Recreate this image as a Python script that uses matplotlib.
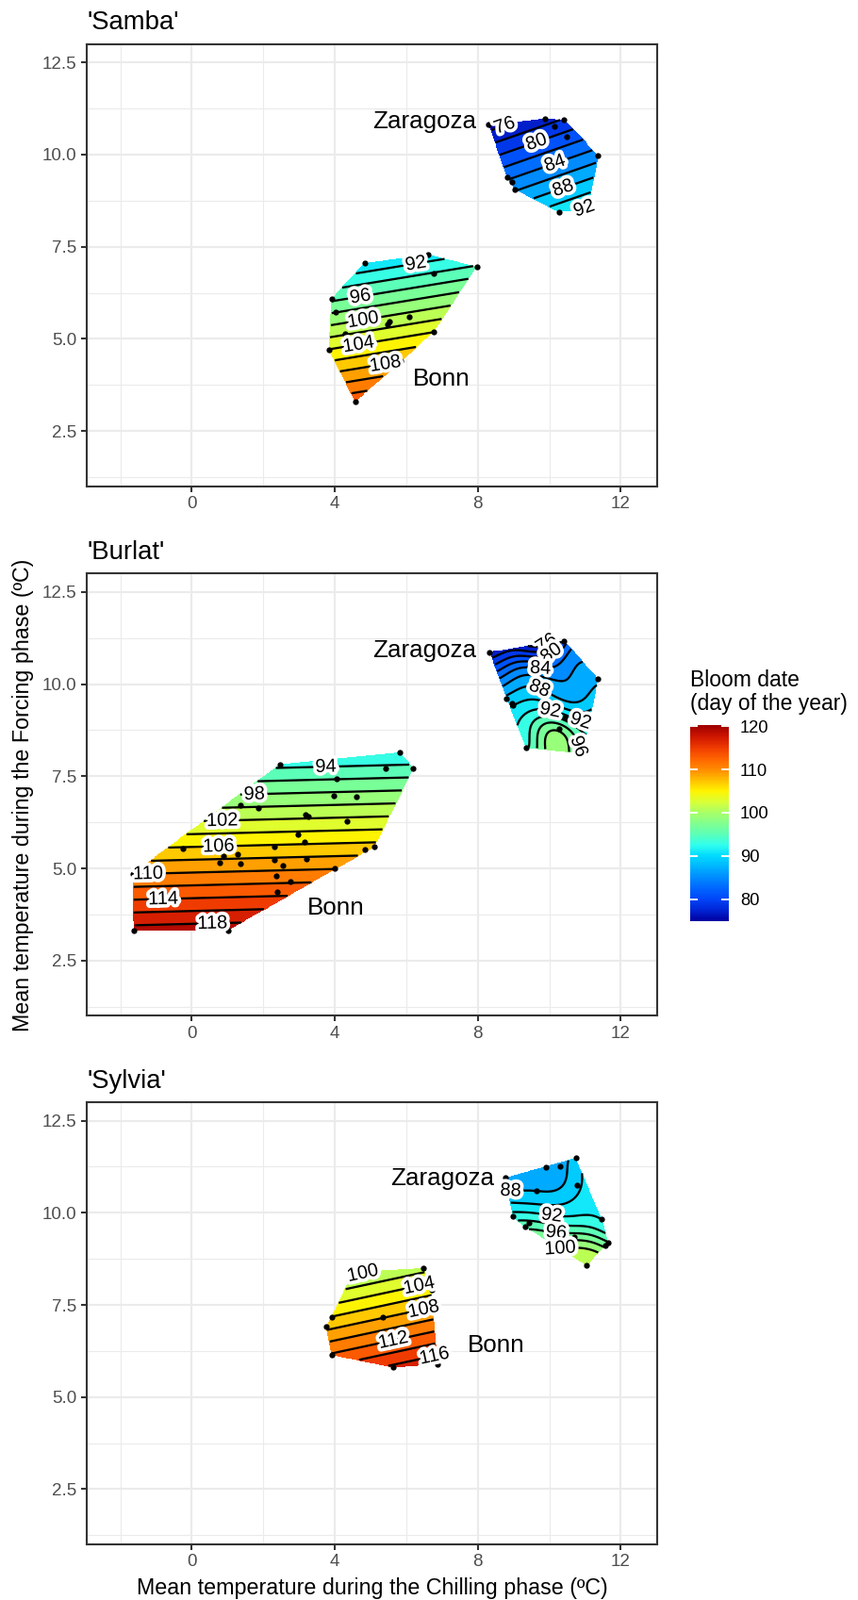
import numpy as np
import matplotlib
matplotlib.use("Agg")
import matplotlib.pyplot as plt
from matplotlib.path import Path
from matplotlib.colors import Normalize, LinearSegmentedColormap
from matplotlib.cm import ScalarMappable
import matplotlib.patheffects as pe

plt.rcParams['font.family'] = ['Liberation Sans', 'DejaVu Sans']

W, H, DPI = 910, 1697, 150

# ---------------- data ----------------
cultivars = ["'Samba'", "'Burlat'", "'Sylvia'"]

# Samba - Bonn
samba_bonn_chill = [4.84, 6.61, 7.97, 6.77, 3.91, 4.03, 6.08, 5.54, 5.48, 6.77, 4.29, 3.84, 5.85, 4.57]
samba_bonn_force = [7.06, 7.29, 6.96, 6.78, 6.09, 5.73, 5.61, 5.47, 5.40, 5.20, 5.14, 4.70, 4.39, 3.30]
samba_bonn_bloom = [90.5, 90.8, 94.2, 94.1, 95.6, 97.9, 100.7, 101.0, 101.4, 103.9, 101.8, 104.1, 108.0, 113.5]
# Samba - Zaragoza
samba_zar_chill = [8.31, 9.87, 10.42, 10.14, 10.49, 11.37, 8.82, 8.95, 9.03, 10.92, 10.96, 11.09, 10.27]
samba_zar_force = [10.81, 10.98, 10.95, 10.77, 10.49, 9.97, 9.38, 9.27, 9.06, 8.72, 8.65, 8.54, 8.44]
samba_zar_bloom = [75.1, 77.0, 78.2, 78.6, 80.7, 85.1, 83.6, 84.5, 85.7, 90.9, 91.4, 92.2, 91.3]

# Burlat - Bonn
burlat_bonn_chill = [2.46, 5.82, 6.20, 5.42, 4.06, 3.96, 4.60, 1.36, 1.85, 3.19, 3.27, 4.35, 2.96, 3.16, 2.30, -0.25,
                     5.10, 4.85, 0.88, 1.28, 0.79, 1.36, 2.30, 3.21, 2.55, 4.00, 2.36, 2.75, 2.40, -1.65, -1.62, 1.01]
burlat_bonn_force = [7.82, 8.14, 7.71, 7.72, 7.43, 6.97, 6.94, 6.71, 6.65, 6.45, 6.42, 6.29, 5.92, 5.72, 5.60, 5.54,
                     5.58, 5.51, 5.34, 5.38, 5.15, 5.13, 5.24, 5.26, 5.09, 5.00, 4.80, 4.64, 4.37, 4.86, 3.30, 3.32]
burlat_bonn_bloom = [93.5, 92.1, 94.6, 94.5, 95.9, 98.6, 98.8, 99.7, 100.1, 101.5, 101.6, 102.5, 104.5, 105.7, 106.2, 106.2,
                     106.7, 107.1, 107.5, 107.3, 108.6, 108.8, 108.3, 108.3, 109.2, 109.9, 110.8, 111.8, 113.3, 109.9, 118.9, 119.2]
# Burlat - Zaragoza
burlat_zar_chill = [8.33, 9.87, 10.42, 9.48, 11.37, 8.81, 8.95, 8.99, 10.44, 10.28, 9.35, 10.94]
burlat_zar_force = [10.87, 11.13, 11.17, 10.61, 10.14, 9.61, 9.48, 9.43, 9.09, 8.78, 8.27, 8.11]
burlat_zar_bloom = [76.5, 75.4, 81.0, 82.0, 87.5, 88.5, 89.5, 90.0, 93.0, 97.5, 93.5, 96.0]

# Sylvia - Bonn
sylvia_bonn_chill = [4.53, 6.49, 6.71, 3.91, 5.35, 3.76, 3.91, 5.64, 6.88]
sylvia_bonn_force = [8.39, 8.50, 7.90, 7.16, 7.16, 6.90, 6.14, 5.81, 5.90]
sylvia_bonn_bloom = [99.5, 101.3, 105.2, 106.1, 107.9, 107.5, 112.3, 116.4, 117.4]
# Sylvia - Zaragoza
sylvia_zar_chill = [8.77, 9.92, 10.30, 10.74, 9.65, 10.77, 8.98, 9.42, 9.32, 11.47, 10.71, 10.66, 11.65, 11.56, 10.65, 11.05]
sylvia_zar_force = [10.95, 11.23, 11.27, 11.48, 10.59, 10.76, 9.90, 9.73, 9.62, 9.82, 9.35, 9.16, 9.20, 9.11, 8.99, 8.57]
sylvia_zar_bloom = [86.5, 86.5, 87.0, 89.0, 88.0, 89.5, 93.0, 94.5, 95.5, 92.0, 97.0, 99.0, 96.0, 97.5, 100.5, 102.0]

# labelled contour levels per site
samba_bonn_labels = [92, 96, 100, 104, 108]
samba_zar_labels = [76, 80, 84, 88, 92]
burlat_bonn_labels = [94, 98, 102, 106, 110, 114, 118]
burlat_zar_labels = [76, 80, 84, 88, 92, 92, 96]
sylvia_bonn_labels = [100, 104, 108, 112, 116]
sylvia_zar_labels = [88, 92, 96, 100]

color_limits = (75.0, 120.2)
contour_breaks = np.arange(74, 124, 2)
legend_ticks = [80, 90, 100, 110, 120]
x_ticks = [0, 4, 8, 12]
x_minor = [-2, 2, 6, 10]
y_ticks = [2.5, 5.0, 7.5, 10.0, 12.5]
y_minor = [1.25, 3.75, 6.25, 8.75, 11.25]

# colour ramp (value, colour) sampled from the legend bar
ramp_values = [75, 77.5, 80, 82.5, 85, 87.5, 90, 92.5, 95, 97.5, 100, 102.5, 105, 107.5, 110, 112.5, 115, 117.5, 120.2]
ramp_colors = ['#0000A0', '#0026D6', '#0046F8', '#0066FF', '#008CFF', '#00B4FF', '#00DAFF', '#30FFEE', '#5CFFB8',
               '#80FF90', '#A8FF68', '#D8FF38', '#FFF400', '#FFC000', '#FF8C00', '#FF6400', '#F03C00', '#D01800',
               '#A00000']

# ---------------- layout (label placement) ----------------
samba_bonn_lpos = [(6.24, 7.12), (4.71, 6.18), (4.79, 5.52), (4.66, 4.90), (5.42, 4.26)]
samba_zar_lpos = [(8.75, 10.78), (9.67, 10.27), (10.2, 9.61), (10.46, 8.89), (10.86, 8.3)]
burlat_bonn_lpos = [(3.74, 7.76), (1.76, 7.03), (0.86, 6.30), (0.75, 5.62), (-1.23, 4.88), (-0.79, 4.22), (0.57, 3.53)]
burlat_zar_lpos = [(10.11, 10.87), (10.24, 10.61), (9.76, 10.40), (9.83, 10.14), (10.07, 9.55), (10.86, 8.91), (10.90, 8.33)]
sylvia_bonn_lpos = [(4.79, 8.29), (6.33, 8.16), (6.46, 7.47), (5.63, 6.54), (6.77, 6.20)]
sylvia_zar_lpos = [(8.92, 10.46), (10.11, 10.33), (10.24, 9.85), (9.76, 9.11)]

# surface type per site: planar trend only, or trend + kriged residual
PLANE, KRIGED = 1e6, 2e-3

panels = [
    dict(title=cultivars[0],
         sites=[(samba_bonn_chill, samba_bonn_force, samba_bonn_bloom, samba_bonn_labels, samba_bonn_lpos, PLANE),
                (samba_zar_chill, samba_zar_force, samba_zar_bloom, samba_zar_labels, samba_zar_lpos, PLANE)],
         names=[("Zaragoza", 6.51, 10.72), ("Bonn", 6.98, 3.72)]),
    dict(title=cultivars[1],
         sites=[(burlat_bonn_chill, burlat_bonn_force, burlat_bonn_bloom, burlat_bonn_labels, burlat_bonn_lpos, PLANE),
                (burlat_zar_chill, burlat_zar_force, burlat_zar_bloom, burlat_zar_labels, burlat_zar_lpos, KRIGED)],
         names=[("Zaragoza", 6.51, 10.72), ("Bonn", 4.02, 3.75)]),
    dict(title=cultivars[2],
         sites=[(sylvia_bonn_chill, sylvia_bonn_force, sylvia_bonn_bloom, sylvia_bonn_labels, sylvia_bonn_lpos, PLANE),
                (sylvia_zar_chill, sylvia_zar_force, sylvia_zar_bloom, sylvia_zar_labels, sylvia_zar_lpos, KRIGED)],
         names=[("Zaragoza", 7.02, 10.75), ("Bonn", 8.51, 6.23)]),
]


def hull_of(x, y):
    pts = sorted(set(zip(x, y)))

    def cross(o, a, b):
        return (a[0] - o[0]) * (b[1] - o[1]) - (a[1] - o[1]) * (b[0] - o[0])
    lower, upper = [], []
    for p in pts:
        while len(lower) >= 2 and cross(lower[-2], lower[-1], p) <= 0:
            lower.pop()
        lower.append(p)
    for p in reversed(pts):
        while len(upper) >= 2 and cross(upper[-2], upper[-1], p) <= 0:
            upper.pop()
        upper.append(p)
    return np.array(lower[:-1] + upper[:-1])


def krige(x, y, z, nugget, step=0.025, ell=0.85):
    x, y, z = (np.asarray(v, float) for v in (x, y, z))
    A = np.column_stack([np.ones_like(x), x, y])
    coef = np.linalg.lstsq(A, z, rcond=None)[0]
    r = z - A @ coef
    d2 = (x[:, None] - x[None, :]) ** 2 + (y[:, None] - y[None, :]) ** 2
    w = np.linalg.solve(np.exp(-d2 / ell ** 2) + nugget * np.eye(len(x)), r)
    gx = np.arange(x.min() - step, x.max() + 2 * step, step)
    gy = np.arange(y.min() - step, y.max() + 2 * step, step)
    GX, GY = np.meshgrid(gx, gy)
    P = np.column_stack([GX.ravel(), GY.ravel()])
    dg = (P[:, 0, None] - x[None, :]) ** 2 + (P[:, 1, None] - y[None, :]) ** 2
    Z = coef[0] + coef[1] * P[:, 0] + coef[2] * P[:, 1] + np.exp(-dg / ell ** 2) @ w
    inside = Path(hull_of(x, y)).contains_points(P)
    Z = np.ma.masked_where(~inside, Z).reshape(GX.shape)
    return GX, GY, Z


def label_contour(ax, cs, level, pos):
    idx = int(np.argmin(np.abs(np.asarray(cs.levels) - level)))
    segs = [s for s in cs.allsegs[idx] if len(s) >= 2]
    if not segs:
        return
    best = None
    for s in segs:
        d = np.hypot(s[:, 0] - pos[0], s[:, 1] - pos[1])
        i = int(np.argmin(d))
        if best is None or d[i] < best[0]:
            best = (d[i], s, i)
    _, s, i = best
    disp = ax.transData.transform(s)
    k = 4
    a, b = disp[max(i - k, 0)], disp[min(i + k, len(s) - 1)]
    ang = np.degrees(np.arctan2(b[1] - a[1], b[0] - a[0]))
    if ang > 90:
        ang -= 180
    if ang < -90:
        ang += 180
    t = ax.text(s[i, 0], s[i, 1], f"{level:.0f}", ha='center', va='center', rotation=ang,
                rotation_mode='anchor', fontsize=9.6, color='black', zorder=5)
    t.set_path_effects([pe.withStroke(linewidth=3.6, foreground='white')])


fig = plt.figure(figsize=(W / DPI, H / DPI), dpi=DPI)
fig.patch.set_facecolor('white')
norm = Normalize(*color_limits)
cmap = LinearSegmentedColormap.from_list(
    'bloom', [((v - color_limits[0]) / (color_limits[1] - color_limits[0]), c) for v, c in zip(ramp_values, ramp_colors)])

AX_L, AX_W, AX_H = 92, 605, 469.1
tops_px = [46.7, 608.3, 1169.0]

for panel, top in zip(panels, tops_px):
    ax = fig.add_axes([AX_L / W, 1 - (top + AX_H) / H, AX_W / W, AX_H / H])
    ax.set_xlim(-2.94, 13.02)
    ax.set_ylim(1.0, 13.0)
    ax.set_xticks(x_ticks)
    ax.set_xticklabels([f"{v:g}" for v in x_ticks])
    ax.set_yticks(y_ticks)
    ax.set_yticklabels([f"{v:.1f}" for v in y_ticks])
    ax.set_xticks(x_minor, minor=True)
    ax.set_yticks(y_minor, minor=True)
    ax.set_axisbelow(True)
    ax.grid(which='major', color='#EBEBEB', lw=1.05)
    ax.grid(which='minor', color='#EBEBEB', lw=0.55)
    ax.tick_params(which='major', length=2.75, width=1.0, color='#333333',
                   labelsize=9.0, labelcolor='#4D4D4D', pad=2.2)
    ax.tick_params(which='minor', length=0)
    for s in ax.spines.values():
        s.set_color('#333333')
        s.set_linewidth(1.0)

    for (cx, fy, bl, lab_levels, lab_pos, nug) in panel['sites']:
        GX, GY, Z = krige(cx, fy, bl, nug)
        ax.contourf(GX, GY, Z, levels=contour_breaks, cmap=cmap, norm=norm, zorder=1)
        cs = ax.contour(GX, GY, Z, levels=contour_breaks, colors='black', linewidths=1.1, zorder=2)
        ax.scatter(cx, fy, s=9, c='black', linewidths=0, zorder=3)
        for lev, p in zip(lab_levels, lab_pos):
            label_contour(ax, cs, lev, p)

    for name, tx, ty in panel['names']:
        ax.text(tx, ty, name, ha='center', va='baseline', fontsize=12.5, color='black', zorder=6)

    ax.text(0, 1 + 15.5 / AX_H, panel['title'], transform=ax.transAxes,
            ha='left', va='baseline', fontsize=13.2, color='black')

# axis titles
fig.text(394.6 / W, 1 - 1690.5 / H, "Mean temperature during the Chilling phase (ºC)",
         ha='center', va='baseline', fontsize=11.2)
fig.text(24.5 / W, 1 - 843 / H, "Mean temperature during the Forcing phase (ºC)",
         ha='center', va='center', rotation=90, fontsize=11.2)

# colour bar legend
cax = fig.add_axes([732.3 / W, 1 - 976.7 / H, 41 / W, 207.4 / H])
cb = fig.colorbar(ScalarMappable(norm=norm, cmap=cmap), cax=cax, ticks=legend_ticks)
cb.outline.set_visible(False)
cax.tick_params(axis='y', which='major', direction='in', length=3.8, width=0.9, color='white',
                left=True, right=True, labelleft=False, labelright=True, labelsize=8.8, pad=5.5)
cax.tick_params(axis='y', which='minor', length=0)
fig.text(732.3 / W, 1 - 728.3 / H, "Bloom date", ha='left', va='baseline', fontsize=11)
fig.text(732.3 / W, 1 - 753.3 / H, "(day of the year)", ha='left', va='baseline', fontsize=11)

fig.savefig("out.png", dpi=DPI, facecolor='white')
